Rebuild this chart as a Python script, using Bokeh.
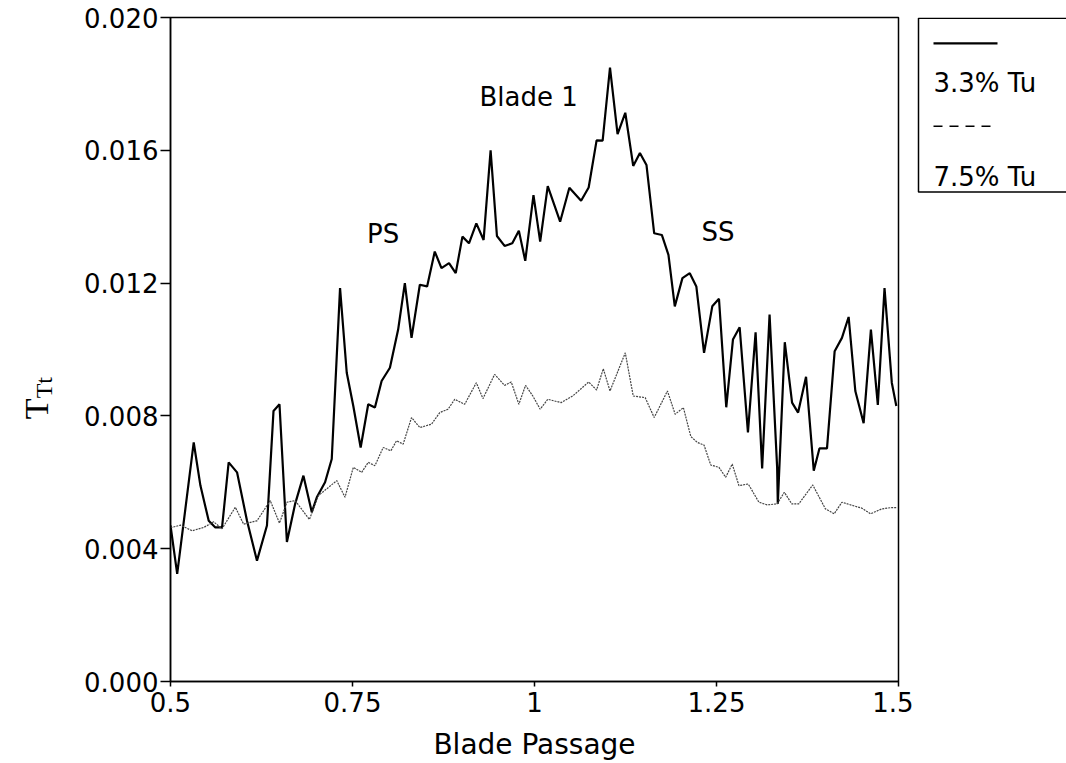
import math
from bokeh.plotting import figure
from bokeh.models import Range1d, FixedTicker, PrintfTickFormatter, Label
from bokeh.layouts import row
from bokeh.embed import file_html
from bokeh.resources import INLINE

# ---- data ----
x_tu33 = [0.5, 0.5092, 0.5319, 0.5411, 0.5525, 0.5616, 0.5708, 0.5799, 0.5914, 0.6051,
          0.6188, 0.6325, 0.6415, 0.6497, 0.6599, 0.6712, 0.6826, 0.6941, 0.701, 0.7123,
          0.7215, 0.7329, 0.7421, 0.7511, 0.7612, 0.7716, 0.7808, 0.79, 0.8014, 0.8127,
          0.8219, 0.8311, 0.8425, 0.8525, 0.863, 0.8722, 0.8826, 0.8918, 0.901, 0.91,
          0.9201, 0.9301, 0.9397, 0.9484, 0.9589, 0.9695, 0.9785, 0.9873, 0.9986, 1.0078,
          1.0182, 1.0352, 1.0479, 1.064, 1.0744, 1.0853, 1.0936, 1.1037, 1.1141, 1.1247,
          1.1356, 1.1448, 1.1538, 1.1644, 1.1749, 1.184, 1.1927, 1.2032, 1.2133, 1.2223,
          1.2329, 1.2442, 1.2534, 1.2634, 1.2726, 1.2818, 1.2932, 1.3037, 1.3127, 1.3229,
          1.3333, 1.3342, 1.3438, 1.3538, 1.3621, 1.373, 1.3836, 1.3914, 1.4018, 1.4123,
          1.4223, 1.4315, 1.4407, 1.4521, 1.4621, 1.4716, 1.4808, 1.4908, 1.497]
y_tu33 = [0.0047, 0.00324, 0.0072, 0.0059, 0.00484, 0.00464, 0.00464, 0.0066, 0.0063, 0.00484,
          0.00364, 0.0047, 0.00815, 0.00835, 0.0042, 0.00535, 0.0062, 0.0051, 0.00555, 0.0060,
          0.0067, 0.01185, 0.0093, 0.0083, 0.00705, 0.00835, 0.00825, 0.00905, 0.00945, 0.0106,
          0.0120, 0.01035, 0.01195, 0.0119, 0.01295, 0.01245, 0.0126, 0.0123, 0.0134, 0.0132,
          0.0138, 0.0133, 0.0160, 0.01342, 0.01312, 0.0132, 0.01358, 0.01267, 0.01465, 0.01325,
          0.01492, 0.01385, 0.01487, 0.01448, 0.01488, 0.0163, 0.01629, 0.01849, 0.01649, 0.01713,
          0.01553, 0.01592, 0.01556, 0.0135, 0.01345, 0.01285, 0.0113, 0.01215, 0.0123, 0.0119,
          0.0099, 0.0113, 0.01153, 0.00826, 0.0103, 0.01067, 0.0075, 0.01052, 0.00642, 0.01105,
          0.00645, 0.00535, 0.01022, 0.0084, 0.0081, 0.00918, 0.00635, 0.00702, 0.00702, 0.00995,
          0.01035, 0.01098, 0.00875, 0.00778, 0.0106, 0.00833, 0.01185, 0.0090, 0.0083]

x_tu75 = [0.5, 0.5137, 0.5297, 0.5456, 0.5593, 0.5708, 0.589, 0.6004, 0.6188, 0.637,
          0.6497, 0.6599, 0.6712, 0.6908, 0.7032, 0.7284, 0.7397, 0.7511, 0.7626, 0.7716,
          0.7808, 0.7922, 0.8027, 0.8105, 0.8196, 0.8311, 0.8425, 0.8585, 0.8699, 0.8812,
          0.8904, 0.9041, 0.9201, 0.9292, 0.9452, 0.9589, 0.9681, 0.9785, 0.9877, 0.9977,
          1.0078, 1.0182, 1.0366, 1.0525, 1.0744, 1.0853, 1.0945, 1.1037, 1.1247, 1.1356,
          1.1521, 1.1644, 1.1826, 1.1932, 1.2045, 1.2147, 1.2237, 1.2329, 1.2421, 1.2534,
          1.2626, 1.2716, 1.2808, 1.2936, 1.3082, 1.3196, 1.3333, 1.3432, 1.3534, 1.363,
          1.3822, 1.3996, 1.4116, 1.4223, 1.4342, 1.4497, 1.4616, 1.4771, 1.4908, 1.497]
y_tu75 = [0.00463, 0.00471, 0.00454, 0.00464, 0.00481, 0.0046, 0.00525, 0.00474, 0.00484, 0.00545,
          0.00477, 0.0054, 0.00545, 0.00488, 0.0056, 0.00605, 0.00555, 0.00645, 0.0063, 0.0066,
          0.0065, 0.00705, 0.00695, 0.00725, 0.00715, 0.00795, 0.00765, 0.00775, 0.0081, 0.0082,
          0.0085, 0.00835, 0.0090, 0.00852, 0.00925, 0.00892, 0.00902, 0.00835, 0.00892, 0.0086,
          0.0082, 0.0085, 0.0084, 0.0086, 0.00902, 0.00878, 0.00942, 0.00875, 0.0099, 0.0086,
          0.00855, 0.00795, 0.00875, 0.00805, 0.00825, 0.00738, 0.0072, 0.00712, 0.00652, 0.00645,
          0.00615, 0.00655, 0.0059, 0.00595, 0.0054, 0.00532, 0.00535, 0.0057, 0.00535, 0.00535,
          0.00592, 0.0052, 0.00505, 0.0054, 0.00532, 0.00522, 0.00505, 0.0052, 0.00524, 0.00524]

x_ticks = [0.5, 0.75, 1.0, 1.25, 1.5]
x_tick_labels = ["0.5", "0.75", "1", "1.25", "1.5"]
y_ticks = [0.0, 0.004, 0.008, 0.012, 0.016, 0.020]

notes = ["PS", "Blade 1", "SS"]
note_x = [0.792, 0.992, 1.252]
note_y = [0.01348, 0.0176, 0.01354]

series_labels = ["3.3% Tu", "7.5% Tu"]

FONT = "DejaVu Sans"
SERIF = "Liberation Serif"
H = 763
FRAME_TOP, FRAME_BOTTOM = 17, 683   # page rows of the plotting frame (side panels align to it)

# ---- left strip holding the rotated y-axis label (T with subscript Tt) ----
ylab = figure(width=60, height=H, x_range=Range1d(0, 60),
              y_range=Range1d(H - FRAME_BOTTOM, H - FRAME_TOP),
              output_backend="svg", toolbar_location=None, min_border=0,
              x_axis_location=None, y_axis_location=None)
ylab.grid.visible = False
ylab.outline_line_color = None
ylab.text(x=[36], y=[H - 420], text=["T"], angle=math.pi / 2, text_font={"value": SERIF},
          text_font_size="34px", text_align="left", text_baseline="alphabetic", text_color="black")
ylab.text(x=[43], y=[H - 399], text=["Tt"], angle=math.pi / 2, text_font={"value": SERIF},
          text_font_size="24px", text_align="left", text_baseline="alphabetic", text_color="black")

# ---- main chart ----
p = figure(width=853, height=H, x_range=Range1d(0.5, 1.5), y_range=Range1d(0.0, 0.020),
           output_backend="svg", toolbar_location=None,
           min_border_left=110, min_border_top=FRAME_TOP, min_border_right=15,
           min_border_bottom=H - FRAME_BOTTOM)
p.grid.visible = False
p.outline_line_color = "black"
p.outline_line_width = 1.5

p.line(x_tu33, y_tu33, line_color="black", line_width=2.2)
p.line(x_tu75, y_tu75, line_color="#444444", line_width=1.2, line_dash="2 1")

for ax in (p.xaxis[0], p.yaxis[0]):
    ax.axis_line_color = "black"
    ax.axis_line_width = 1.5
    ax.major_tick_line_color = "black"
    ax.major_tick_line_width = 1.5
    ax.minor_tick_line_color = None
    ax.major_label_text_font = FONT
    ax.major_label_text_font_size = "26px"
    ax.major_label_text_color = "black"

p.yaxis[0].ticker = FixedTicker(ticks=y_ticks, minor_ticks=[])
p.yaxis[0].formatter = PrintfTickFormatter(format="%.3f")
p.yaxis[0].major_tick_out = 10
p.yaxis[0].major_tick_in = 0
p.yaxis[0].major_label_standoff = 2

p.xaxis[0].ticker = FixedTicker(ticks=x_ticks, minor_ticks=[])
p.xaxis[0].major_label_overrides = {t: l for t, l in zip(x_ticks, x_tick_labels)}
p.xaxis[0].major_tick_out = 5
p.xaxis[0].major_tick_in = 0
p.xaxis[0].major_label_standoff = 5
p.xaxis[0].axis_label = "Blade Passage"
p.xaxis[0].axis_label_text_font = FONT
p.xaxis[0].axis_label_text_font_size = "28px"
p.xaxis[0].axis_label_text_font_style = "normal"
p.xaxis[0].axis_label_text_color = "black"
p.xaxis[0].axis_label_standoff = 13

for t, xx, yy in zip(notes, note_x, note_y):
    p.add_layout(Label(x=xx, y=yy, text=t, text_font=FONT, text_font_size="26px",
                       text_align="center", text_baseline="middle", text_color="black"))

# ---- legend panel (sample line above its label), page-pixel coordinates ----
leg = figure(width=153, height=H, x_range=Range1d(913, 1066),
             y_range=Range1d(H - FRAME_BOTTOM, H - FRAME_TOP),
             output_backend="svg", toolbar_location=None, min_border=0,
             x_axis_location=None, y_axis_location=None)
leg.grid.visible = False
leg.outline_line_color = None
leg.quad(left=918, right=1090, top=H - FRAME_TOP - 0.8, bottom=H - 192, fill_color=None,
         line_color="black", line_width=1.5)
leg.line([933, 997], [H - 43, H - 43], line_color="black", line_width=2.2)
leg.line([933, 997], [H - 126, H - 126], line_color="black", line_width=1.5, line_dash="9 7")
leg.text(x=[933, 933], y=[H - 83, H - 177], text=series_labels, text_font={"value": FONT},
         text_font_size="26px", text_baseline="alphabetic", text_align="left", text_color="black")

layout = row(ylab, p, leg, spacing=0)
open("out.html", "w").write(file_html(layout, INLINE))
